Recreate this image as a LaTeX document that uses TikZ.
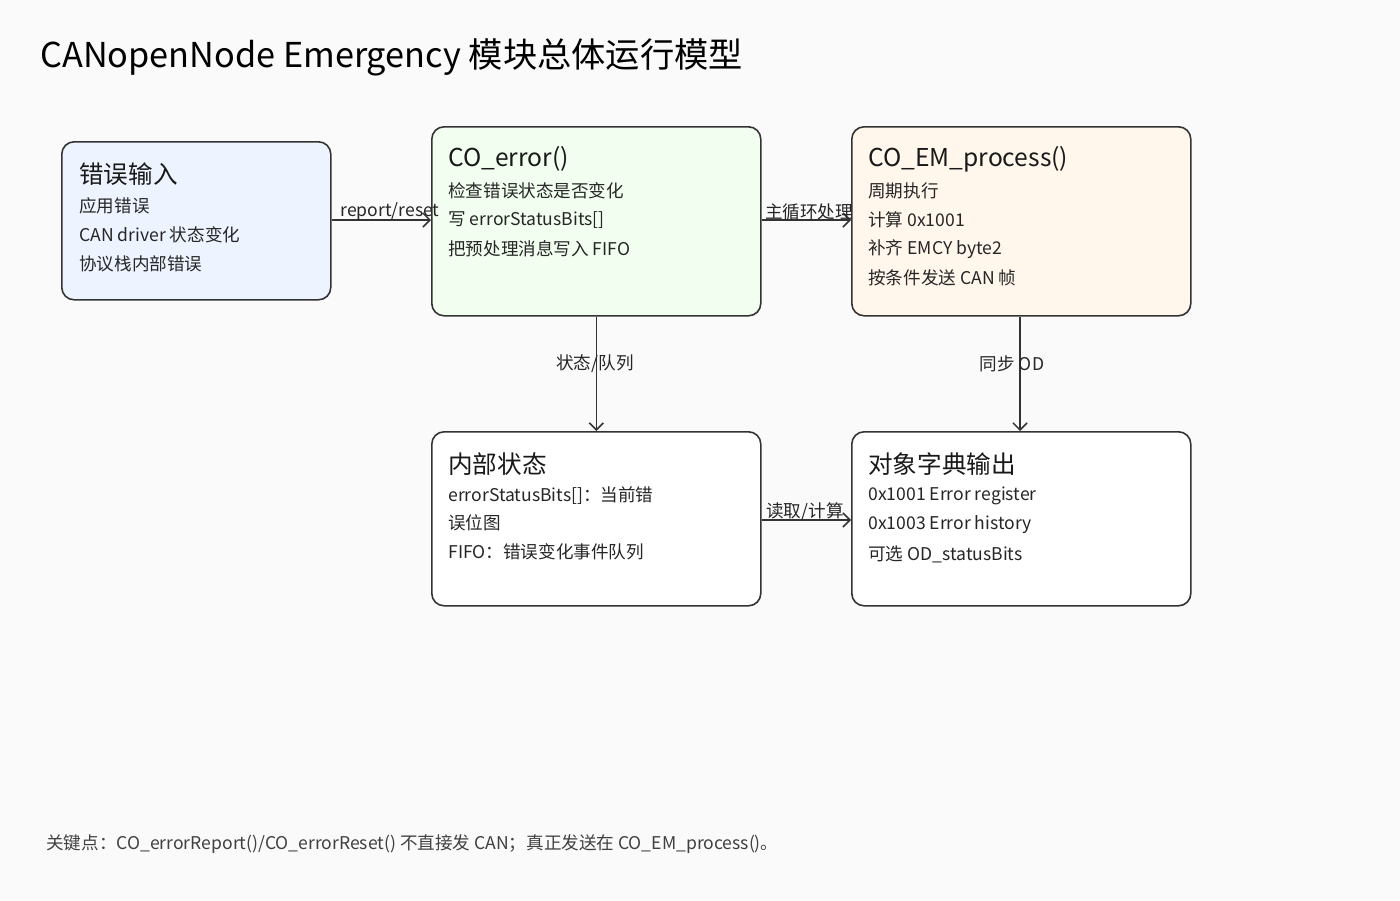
\documentclass[tikz,border=0pt]{standalone}
\usepackage{fontspec}
\setmainfont{Noto Sans CJK SC}
\usetikzlibrary{arrows.meta}
\definecolor{edgegray}{HTML}{333333}
\definecolor{bgcol}{HTML}{FAFAFA}
\definecolor{inblue}{HTML}{EEF4FF}
\definecolor{errgreen}{HTML}{F2FFF0}
\definecolor{procorange}{HTML}{FFF6EC}
\begin{document}
\begin{tikzpicture}
[x=0.02cm,y=-0.02cm,
  boxDecorate/.style={draw=edgegray,line width=0.9pt,rounded corners=7pt,anchor=north west,inner sep=0pt},
  titleDecorate/.style={anchor=west,inner sep=0pt,font=\fontsize{14}{16}\selectfont,text=black!90},
  lineDecorate/.style={anchor=west,inner sep=0pt,font=\fontsize{10}{12}\selectfont,text=black!85},
  arrowDecorate/.style={draw=edgegray,line width=0.9pt,-{Straight Barb[length=4pt,width=8pt]}},
  labelDecorate/.style={inner sep=0pt,font=\fontsize{10}{12}\selectfont,text=black!85}]
\fill[bgcol] (0,0) rectangle (1400,900);
\useasboundingbox (0,0) rectangle (1400,900);
%% title
\node (title) at (40,57) [anchor=west,inner sep=0pt,font=\fontsize{19.5}{22}\selectfont] {CANopenNode Emergency 模块总体运行模型};
%% boxes
\foreach \boxname/\x/\y/\w/\h/\col in {
  input/61/141/269/158/inblue, err/431/126/329/189/errgreen,
  proc/851/126/339/189/procorange, state/431/431/329/174/white,
  od/851/431/339/174/white}
{
  \node (\boxname) at (\x,\y) [boxDecorate,fill=\col,minimum width=\w*0.02cm,minimum height=\h*0.02cm] {};
}
%% box texts
\node (inputT) at (79,174) [titleDecorate] {错误输入};
\node (errT) at (448,159) [titleDecorate] {CO\_error()};
\node (procT) at (868,159) [titleDecorate] {CO\_EM\_process()};
\node (stateT) at (448,464) [titleDecorate] {内部状态};
\node (odT) at (868,464) [titleDecorate] {对象字典输出};
\foreach \x/\y/\txt in {
  79/206/应用错误, 79/235/CAN driver 状态变化, 79/264/协议栈内部错误,
  448/191/检查错误状态是否变化, 448/220/写 errorStatusBits[], 448/249/把预处理消息写入 FIFO,
  868/191/周期执行, 868/220/计算 0x1001, 868/249/补齐 EMCY byte2, 868/278/按条件发送 CAN 帧,
  448/496/errorStatusBits[]：当前错, 448/523/误位图, 448/552/FIFO：错误变化事件队列,
  868/496/0x1001 Error register, 868/525/0x1003 Error history, 868/554/可选 OD\_statusBits}
{
  \node at (\x,\y) [lineDecorate] {\txt};
}
%% connectors
\draw[arrowDecorate] (input.east |- 0,220) -- (err.west |- 0,220);
\draw[arrowDecorate] (err.east |- 0,220) -- (proc.west |- 0,220);
\draw[arrowDecorate] (err.south) -- (state.north);
\draw[arrowDecorate] (proc.south -| 1020,0) -- (od.north -| 1020,0);
\draw[arrowDecorate] (state.east |- 0,520) -- (od.west |- 0,520);
\node (lab1) at (390,212) [labelDecorate] {report/reset};
\node (lab2) at (809,212) [labelDecorate] {主循环处理};
\node (lab3) at (595,364) [labelDecorate] {状态/队列};
\node (lab4) at (1012,364) [labelDecorate] {同步 OD};
\node (lab5) at (805,512) [labelDecorate] {读取/计算};
%% footnote
\node (note) at (46,844) [anchor=west,inner sep=0pt,font=\fontsize{10}{12}\selectfont,text=black!75] {关键点：CO\_errorReport()/CO\_errorReset() 不直接发 CAN；真正发送在 CO\_EM\_process()。};
\end{tikzpicture}
\end{document}
